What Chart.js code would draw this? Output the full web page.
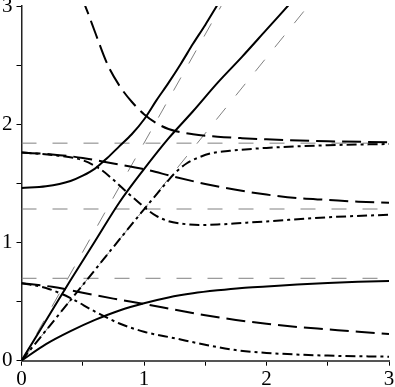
<!DOCTYPE html>
<html>
<head>
<meta charset="utf-8">
<script src="https://cdn.jsdelivr.net/npm/chart.js@4.4.0/dist/chart.umd.min.js"></script>
<style>
  html, body { margin: 0; padding: 0; background: #fff; }
  .chart-box { width: 395px; height: 387px; position: relative; }
</style>
</head>
<body>
<div class="chart-box"><canvas class="js-chart"></canvas></div>
<script>
// ***** axis ticks (labels only on the integers)
const tickLabels = [0, 1, 2, 3];

// ***** solid curves
const solidTopX = [0, 0.2, 0.4, 0.5, 0.6, 0.7, 0.8, 0.9, 1.0, 1.1, 1.2, 1.3, 1.4, 1.5, 1.6];
const solidTopY = [1.46, 1.475, 1.52, 1.565, 1.625, 1.715, 1.815, 1.915, 2.04, 2.2, 2.35, 2.51, 2.68, 2.84, 3.01];

const solidMidX = [0, 0.2, 0.4, 0.6, 0.8, 1.0, 1.2, 1.4, 1.6, 1.8, 2.0, 2.2];
const solidMidY = [0, 0.34, 0.68, 1.01, 1.34, 1.62, 1.88, 2.11, 2.35, 2.57, 2.8, 3.03];

const solidLowX = [0, 0.2, 0.4, 0.6, 0.8, 1.0, 1.2, 1.4, 1.6, 1.8, 2.0, 2.25, 2.5, 2.75, 3.0];
const solidLowY = [0, 0.14, 0.25, 0.345, 0.425, 0.486, 0.535, 0.57, 0.595, 0.615, 0.628, 0.645, 0.658, 0.667, 0.674];

// ***** long dash curves
const dashTopX = [0.49, 0.55, 0.6, 0.7, 0.8, 0.9, 1.0, 1.1, 1.2, 1.4, 1.6, 1.8, 2.0, 2.5, 3.0];
const dashTopY = [3.08, 2.92, 2.78, 2.51, 2.325, 2.19, 2.085, 2.01, 1.96, 1.915, 1.895, 1.882, 1.872, 1.856, 1.848];

const dashMidX = [0, 0.25, 0.5, 0.75, 1.0, 1.25, 1.5, 1.75, 2.0, 2.25, 2.5, 2.75, 3.0];
const dashMidY = [1.76, 1.745, 1.715, 1.668, 1.62, 1.555, 1.495, 1.445, 1.405, 1.375, 1.36, 1.345, 1.335];

const dashLowX = [0, 0.25, 0.5, 0.75, 1.0, 1.25, 1.5, 1.75, 2.0, 2.25, 2.5, 2.75, 3.0];
const dashLowY = [0.655, 0.625, 0.575, 0.525, 0.48, 0.432, 0.385, 0.345, 0.312, 0.285, 0.265, 0.245, 0.226];

// ***** dash-dot curves
const dotTopX = [0, 0.5, 1.0, 1.15, 1.25, 1.35, 1.45, 1.55, 1.7, 2.0, 2.5, 3.0];
const dotTopY = [0, 0.64, 1.28, 1.465, 1.585, 1.67, 1.72, 1.755, 1.775, 1.8, 1.822, 1.833];

const dotMidX = [0, 0.25, 0.5, 0.65, 0.75, 0.85, 0.95, 1.0, 1.1, 1.2, 1.3, 1.45, 1.6, 1.8, 2.0, 2.5, 3.0];
const dotMidY = [1.76, 1.74, 1.695, 1.615, 1.53, 1.435, 1.345, 1.3, 1.225, 1.18, 1.16, 1.148, 1.152, 1.165, 1.178, 1.213, 1.235];

const dotLowX = [0, 0.2, 0.4, 0.6, 0.8, 1.0, 1.25, 1.5, 1.75, 2.0, 2.5, 3.0];
const dotLowY = [0.655, 0.615, 0.53, 0.415, 0.315, 0.245, 0.19, 0.135, 0.09, 0.066, 0.043, 0.034];

// ***** thin asymptotes
const levels = [1.84, 1.283, 0.697];
const slopeLineSteepX = [0, 1.63];
const slopeLineSteepY = [0, 3.0];
const slopeLineFlatX = [0, 2.34];
const slopeLineFlatY = [0, 3.0];

// *****

const toPoints = (xs, ys) => xs.map((x, i) => ({ x, y: ys[i] }));

const LONG_DASH = [19, 7];
const DASH_DOT = [10, 4, 3, 4];

function thick(xs, ys, dash) {
  return {
    data: toPoints(xs, ys),
    borderColor: '#000',
    borderWidth: 2,
    borderDash: dash,
    pointRadius: 0,
    fill: false,
    cubicInterpolationMode: 'monotone',
    order: 1,
  };
}

function thin(xs, ys) {
  return {
    data: toPoints(xs, ys),
    borderColor: '#808080',
    borderWidth: 1,
    borderDash: [15, 16],
    pointRadius: 0,
    fill: false,
    tension: 0,
    order: 2,
  };
}

const datasets = [
  thick(solidTopX, solidTopY, []),
  thick(solidMidX, solidMidY, []),
  thick(solidLowX, solidLowY, []),
  thick(dashTopX, dashTopY, LONG_DASH),
  thick(dashMidX, dashMidY, LONG_DASH),
  thick(dashLowX, dashLowY, LONG_DASH),
  thick(dotTopX, dotTopY, DASH_DOT),
  thick(dotMidX, dotMidY, DASH_DOT),
  thick(dotLowX, dotLowY, DASH_DOT),
  thin(slopeLineSteepX, slopeLineSteepY),
  thin(slopeLineFlatX, slopeLineFlatY),
  ...levels.map(v => thin([0, 3], [v, v])),
];

// serif labels, like the original plot
Chart.defaults.font.family = 'Liberation Serif';
Chart.defaults.font.size = 21;
Chart.defaults.color = '#000';

function fixAxis(size, key) {
  return scale => {
    scale[key] = size;
    scale.paddingLeft = 0;
    scale.paddingRight = 0;
    scale.paddingTop = 0;
    scale.paddingBottom = 0;
  };
}

const ctx = document.querySelector('.js-chart').getContext('2d');

const chart = new Chart(ctx, {
  type: 'line',
  data: { datasets },
  options: {
    responsive: true,
    maintainAspectRatio: false,
    animation: false,
    layout: { padding: { top: 6, right: 6, left: 0, bottom: 0 } },
    plugins: {
      legend: { display: false },
      tooltip: { enabled: false },
    },
    scales: {
      x: {
        type: 'linear',
        min: 0,
        max: 3,
        ticks: {
          stepSize: 0.5,
          autoSkip: false,
          maxRotation: 0,
          padding: 1,
          callback: v => (tickLabels.includes(v) ? String(v) : ''),
        },
        grid: { drawOnChartArea: false, tickLength: 5, color: '#000' },
        border: { color: '#555', width: 2 },
        afterFit: fixAxis(26.3, 'height'),
      },
      y: {
        type: 'linear',
        min: 0,
        max: 3,
        ticks: {
          stepSize: 0.5,
          autoSkip: false,
          padding: 4,
          callback: v => (tickLabels.includes(v) ? String(v) : ''),
        },
        grid: { drawOnChartArea: false, tickLength: 5, color: '#000' },
        border: { color: '#222', width: 1.5 },
        afterFit: fixAxis(21.5, 'width'),
      },
    },
  },
});
</script>
</body>
</html>
